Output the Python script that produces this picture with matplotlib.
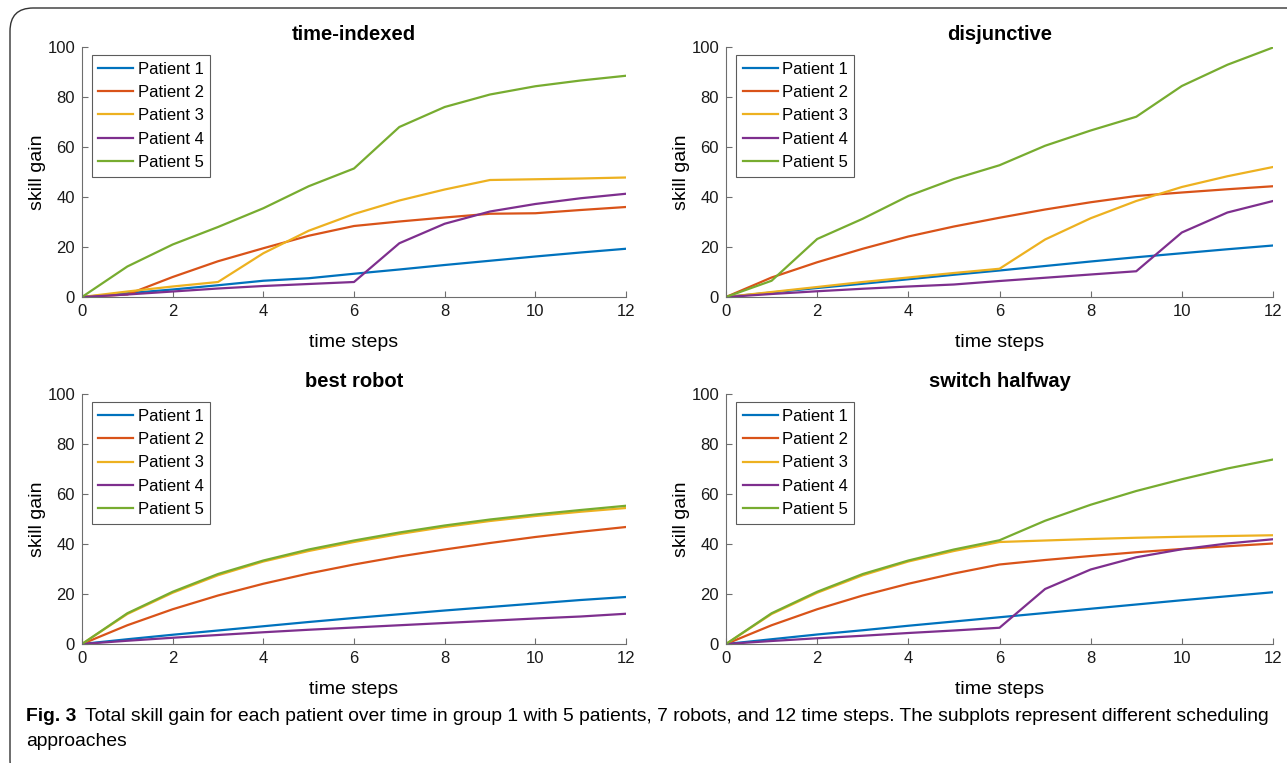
import numpy as np
import matplotlib
matplotlib.use("Agg")
import matplotlib.pyplot as plt
from matplotlib.patches import FancyBboxPatch

plt.rcParams['font.family'] = ['Liberation Sans', 'DejaVu Sans']

steps = np.arange(13)
patients = ['Patient 1', 'Patient 2', 'Patient 3', 'Patient 4', 'Patient 5']
colors = ['#0072BD', '#D95319', '#EDB120', '#7E2F8E', '#77AC30']

# skill gain per time step
time_indexed = [
    [0, 1.5, 3.0, 4.7, 6.5, 7.5, 9.3, 11.0, 12.8, 14.5, 16.2, 17.8, 19.3],
    [0, 1.0, 8.0, 14.3, 19.5, 24.5, 28.4, 30.2, 31.8, 33.3, 33.5, 34.8, 36.0],
    [0, 2.2, 4.2, 6.0, 17.5, 26.5, 33.2, 38.6, 43.0, 46.8, 47.1, 47.4, 47.8],
    [0, 1.0, 2.2, 3.4, 4.4, 5.2, 6.0, 21.5, 29.3, 34.2, 37.2, 39.5, 41.3],
    [0, 12.2, 21.0, 28.0, 35.5, 44.3, 51.4, 68.0, 76.0, 81.0, 84.3, 86.6, 88.5],
]
disjunctive = [
    [0, 1.8, 3.6, 5.3, 7.1, 8.9, 10.6, 12.4, 14.2, 15.9, 17.5, 19.1, 20.6],
    [0, 7.8, 13.9, 19.3, 24.2, 28.2, 31.7, 35.0, 37.9, 40.4, 41.8, 43.1, 44.3],
    [0, 2.0, 4.0, 6.0, 7.8, 9.6, 11.3, 23.0, 31.5, 38.4, 44.0, 48.3, 52.0],
    [0, 1.2, 2.3, 3.3, 4.2, 5.0, 6.4, 7.7, 9.0, 10.3, 25.8, 33.8, 38.4],
    [0, 6.5, 23.2, 31.3, 40.4, 47.2, 52.7, 60.5, 66.6, 72.1, 84.4, 92.9, 99.8],
]
best_robot = [
    [0, 1.9, 3.7, 5.4, 7.1, 8.8, 10.4, 11.9, 13.4, 14.8, 16.2, 17.6, 18.8],
    [0, 7.5, 13.9, 19.4, 24.1, 28.2, 31.8, 35.0, 37.8, 40.4, 42.8, 44.9, 46.8],
    [0, 12.0, 20.5, 27.5, 33.0, 37.2, 40.8, 44.0, 46.8, 49.2, 51.2, 52.9, 54.4],
    [0, 1.3, 2.5, 3.6, 4.7, 5.7, 6.6, 7.5, 8.4, 9.3, 10.2, 11.0, 12.1],
    [0, 12.3, 20.9, 28.0, 33.4, 37.8, 41.4, 44.6, 47.4, 49.8, 51.8, 53.6, 55.3],
]
switch_halfway = [
    [0, 1.9, 3.8, 5.5, 7.3, 9.0, 10.7, 12.4, 14.1, 15.8, 17.5, 19.1, 20.7],
    [0, 7.5, 13.9, 19.4, 24.1, 28.2, 31.8, 33.6, 35.2, 36.7, 38.0, 39.1, 40.2],
    [0, 12.0, 20.5, 27.5, 33.0, 37.2, 40.8, 41.4, 42.0, 42.5, 42.9, 43.2, 43.5],
    [0, 1.2, 2.3, 3.3, 4.4, 5.4, 6.5, 22.0, 29.8, 34.7, 37.9, 40.2, 41.9],
    [0, 12.3, 20.9, 28.0, 33.4, 37.8, 41.5, 49.3, 55.7, 61.2, 65.9, 70.2, 73.8],
]

titles = ['time-indexed', 'disjunctive', 'best robot', 'switch halfway']
panels = [time_indexed, disjunctive, best_robot, switch_halfway]

caption_head = 'Fig. 3'
caption_line1 = ('Total skill gain for each patient over time in group 1 with 5 patients, 7 robots, '
                 'and 12 time steps. The subplots represent different scheduling')
caption_line2 = 'approaches'

W, H = 1287, 763
fig = plt.figure(figsize=(W / 100, H / 100), dpi=100)

# axes boxes in pixels: left, top, right, bottom
boxes = [(82, 47, 626, 297), (726, 47, 1273, 297),
         (82, 394, 626, 644), (726, 394, 1273, 644)]

# rounded frame around the figure
frame = FancyBboxPatch((10 / W, -20 / H), 1.1, (H - 8 + 20) / H,
                       boxstyle="round,pad=0,rounding_size=0.018",
                       transform=fig.transFigure, fill=False,
                       edgecolor='#333333', linewidth=1.0,
                       mutation_aspect=W / H)
fig.patches.append(frame)

for (l, t, r, b), title, data in zip(boxes, titles, panels):
    ax = fig.add_axes([l / W, 1 - b / H, (r - l) / W, (b - t) / H])
    for vals, name, c in zip(data, patients, colors):
        ax.plot(steps, vals, color=c, lw=1.6, label=name)
    ax.set_xlim(0, 12)
    ax.set_ylim(0, 100)
    ax.set_xticks(np.arange(0, 13, 2))
    ax.set_yticks(np.arange(0, 101, 20))
    for s in ['top', 'right']:
        ax.spines[s].set_visible(False)
    for s in ['left', 'bottom']:
        ax.spines[s].set_color('#6e6e6e')
        ax.spines[s].set_linewidth(0.8)
    ax.tick_params(direction='in', length=4, width=0.8, color='#6e6e6e',
                   labelsize=12, labelcolor='#1a1a1a', pad=5)
    ax.set_title(title, fontsize=14.5, fontweight='bold', pad=5)
    ax.set_xlabel('time steps', fontsize=14, labelpad=11)
    ax.set_ylabel('skill gain', fontsize=14, labelpad=1)
    leg = ax.legend(loc='upper left', fontsize=12, frameon=True, fancybox=False,
                    edgecolor='#333333', handlelength=2.1, handletextpad=0.25,
                    labelspacing=0.5, borderpad=0.4, borderaxespad=0,
                    bbox_to_anchor=(0.018, 0.968))
    leg.get_frame().set_linewidth(0.8)

# caption, sized so the first line ends where the reference's does
cap_size = 13
t1 = fig.text(26 / W, 1 - 721 / H, caption_head, fontsize=cap_size, fontweight='bold',
              va='baseline')
t2 = fig.text(0, 1 - 721 / H, caption_line1, fontsize=cap_size, va='baseline')
t3 = fig.text(26 / W, 1 - 746 / H, caption_line2, fontsize=cap_size, va='baseline')
fig.canvas.draw()
r = fig.canvas.get_renderer()
w1 = t1.get_window_extent(r).width
w2 = t2.get_window_extent(r).width
scale = (1268 - 26) / (w1 + 8 + w2)
for t in (t1, t2, t3):
    t.set_fontsize(cap_size * scale)
fig.canvas.draw()
ext = t1.get_window_extent(r)
t2.set_x((ext.x1 + 8 * scale) / W)

fig.savefig('out.png', dpi=100)
